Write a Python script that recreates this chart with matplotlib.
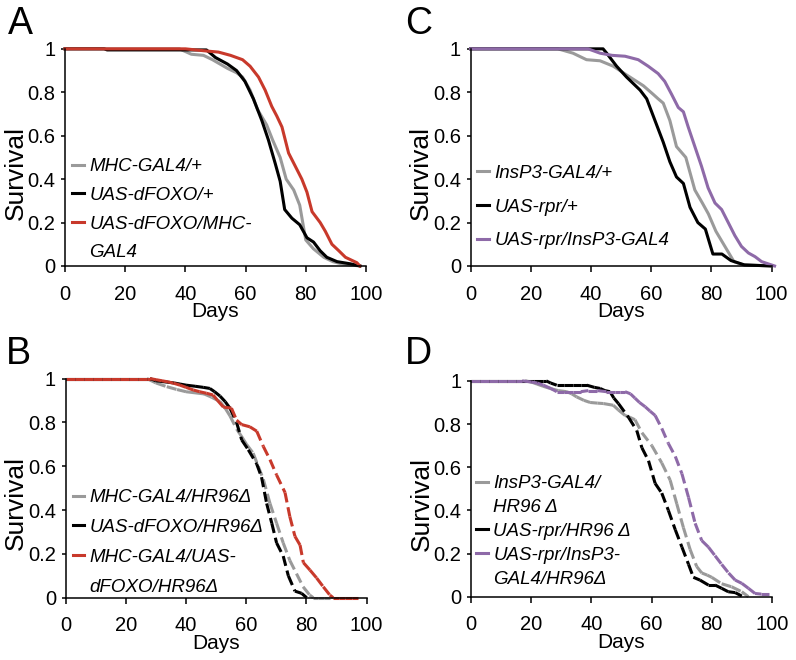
import numpy as np
import matplotlib
matplotlib.use("Agg")
import matplotlib.pyplot as plt
from matplotlib.collections import LineCollection
from matplotlib.lines import Line2D

plt.rcParams['font.family'] = ['Liberation Sans', 'DejaVu Sans']

GRAY = '#9a9a9a'
BLACK = '#000000'
RED = '#c8392b'
PURPLE = '#8e6aa8'

# ---- panel A (solid lines) ----
a_labels = ['MHC-GAL4/+', 'UAS-dFOXO/+', 'UAS-dFOXO/MHC-\nGAL4']
a_gray_days = [0, 38, 42, 46, 49, 51.5, 54, 57, 59, 61.5, 64, 67, 69, 71.5, 73.5, 76, 78, 80, 82.5, 86, 89, 92.5, 98]
a_gray = [1, 1, 0.975, 0.97, 0.95, 0.93, 0.91, 0.89, 0.87, 0.81, 0.72, 0.65, 0.58, 0.50, 0.40, 0.35, 0.28, 0.12, 0.08, 0.04, 0.02, 0.008, 0]
a_black_days = [0, 13, 14, 47, 50, 54, 57, 59.8, 62.6, 65.4, 67.6, 69.9, 71.5, 73, 75.4, 78, 80.4, 82.6, 84.8, 87, 90.4, 94.8, 98]
a_black = [1, 1, 0.995, 0.995, 0.96, 0.93, 0.90, 0.85, 0.77, 0.67, 0.58, 0.47, 0.39, 0.26, 0.22, 0.19, 0.13, 0.11, 0.07, 0.04, 0.02, 0.01, 0]
a_red_days = [0, 40, 47, 51, 55, 59, 61.5, 64.3, 66.5, 68.7, 70.4, 72.1, 73.2, 74.3, 76.5, 78.7, 80.4, 82.1, 84.8, 86.5, 88.7, 91, 93.2, 97, 98]
a_red = [1, 1, 0.99, 0.985, 0.97, 0.95, 0.92, 0.87, 0.81, 0.735, 0.69, 0.64, 0.58, 0.52, 0.46, 0.40, 0.34, 0.25, 0.20, 0.16, 0.10, 0.07, 0.04, 0.015, 0]

# ---- panel B (dashed lines) ----
b_labels = ['MHC-GAL4/HR96Δ', 'UAS-dFOXO/HR96Δ', 'MHC-GAL4/UAS-\ndFOXO/HR96Δ']
b_gray_days = [0, 3, 6, 9, 12, 15, 18, 21, 24, 27, 30, 33.6, 37, 40, 43, 46, 48.5, 51.3, 53, 54.6, 56.8, 58.5, 60.1, 62.3, 64, 65.7, 67.9, 70.1, 72.3, 74.5, 76.7, 78.9, 81.1, 82.3, 84, 86, 88]
b_gray = [1, 1, 1, 1, 1, 1, 1, 1, 1, 1, 0.98, 0.963, 0.95, 0.94, 0.935, 0.93, 0.915, 0.895, 0.865, 0.83, 0.77, 0.735, 0.70, 0.66, 0.60, 0.54, 0.43, 0.34, 0.25, 0.17, 0.11, 0.05, 0.012, 0, 0, 0, 0]
b_black_days = [0, 3, 6, 9, 12, 15, 18, 21, 24, 27, 28, 30, 33, 36, 38, 40, 43, 45.7, 47.9, 49.5, 51.3, 53, 54.6, 56.8, 58.5, 60.7, 63.5, 65.1, 66.8, 68.5, 70.1, 72.3, 74, 76.2, 78.4, 80.1]
b_black = [1, 1, 1, 1, 1, 1, 1, 1, 1, 1, 1, 0.99, 0.985, 0.98, 0.975, 0.97, 0.965, 0.96, 0.955, 0.94, 0.92, 0.895, 0.865, 0.80, 0.72, 0.675, 0.61, 0.55, 0.43, 0.34, 0.25, 0.19, 0.10, 0.03, 0.02, 0]
b_red_days = [0, 3, 6, 9, 12, 15, 18, 21, 24, 27, 28, 30, 32, 34, 35.8, 38, 40, 42.4, 44.5, 46.8, 49, 50.5, 52.4, 55.1, 56.8, 58.5, 61.2, 63.5, 65.7, 67.9, 70.1, 72.9, 74.5, 76.2, 77.9, 79, 81.2, 83.4, 85.6, 87.8, 88.9, 91, 93, 95, 97]
b_red = [1, 1, 1, 1, 1, 1, 1, 1, 1, 1, 1, 0.995, 0.99, 0.985, 0.979, 0.97, 0.96, 0.948, 0.94, 0.933, 0.925, 0.90, 0.87, 0.865, 0.81, 0.79, 0.78, 0.76, 0.69, 0.63, 0.56, 0.48, 0.37, 0.28, 0.24, 0.16, 0.126, 0.09, 0.05, 0.012, 0, 0, 0, 0, 0]

# ---- panel C (solid lines) ----
c_labels = ['InsP3-GAL4/+', 'UAS-rpr/+', 'UAS-rpr/InsP3-GAL4']
c_gray_days = [0, 29, 34, 38.5, 43, 47.4, 51.8, 57.4, 60.7, 62.3, 64, 66.2, 68.4, 71.5, 74.5, 77, 79, 81.5, 84.5, 87.5, 90.6, 100]
c_gray = [1, 1, 0.98, 0.95, 0.945, 0.92, 0.88, 0.83, 0.79, 0.77, 0.75, 0.67, 0.55, 0.50, 0.35, 0.29, 0.24, 0.16, 0.09, 0.02, 0.005, 0]
c_black_days = [0, 44, 45.2, 48.5, 51.8, 56.3, 58.5, 61.8, 64, 66.2, 68.4, 70.7, 72.9, 75.5, 78, 80.5, 83.5, 86.5, 91, 100]
c_black = [1, 1, 0.98, 0.92, 0.87, 0.81, 0.77, 0.65, 0.57, 0.48, 0.41, 0.38, 0.27, 0.20, 0.17, 0.055, 0.055, 0.025, 0.005, 0]
c_purple_days = [0, 39, 43, 47, 51.3, 55.7, 59, 62.3, 64.5, 66.8, 69, 70.7, 72.3, 74.5, 76.7, 78.9, 81.2, 83.4, 85.6, 87.8, 90, 92.3, 94.5, 96.7, 101]
c_purple = [1, 1, 0.98, 0.97, 0.966, 0.95, 0.92, 0.886, 0.85, 0.79, 0.73, 0.71, 0.64, 0.55, 0.46, 0.36, 0.29, 0.26, 0.20, 0.14, 0.09, 0.06, 0.043, 0.02, 0]

# ---- panel D (dashed lines) ----
d_labels = ['InsP3-GAL4/\nHR96 Δ', 'UAS-rpr/HR96 Δ', 'UAS-rpr/InsP3-\nGAL4/HR96Δ']
d_gray_days = [0, 3, 6, 9, 12, 15, 18, 20, 22, 24, 26.3, 29, 31.8, 33.5, 35.1, 37.5, 39.6, 42, 44, 47.3, 49, 51.2, 53, 54.5, 56.8, 60.1, 63.4, 66.2, 68.4, 70.6, 72.8, 75, 76.7, 78.5, 80, 83.3, 86.6, 90, 92.2]
d_gray = [1, 1, 1, 1, 1, 1, 1, 0.995, 0.985, 0.975, 0.965, 0.955, 0.95, 0.94, 0.926, 0.91, 0.90, 0.897, 0.895, 0.887, 0.865, 0.84, 0.83, 0.82, 0.76, 0.70, 0.62, 0.54, 0.43, 0.32, 0.22, 0.14, 0.11, 0.10, 0.09, 0.06, 0.046, 0.023, 0]
d_black_days = [0, 3, 6, 9, 12, 15, 18, 21, 24, 25, 26.5, 28.5, 31, 34, 36.5, 38.5, 41, 42.9, 44.5, 46.2, 47.5, 49, 52.4, 55.1, 56.8, 59, 61.2, 63.4, 65.6, 67.9, 70.1, 72.3, 73.9, 76.1, 78.9, 81.1, 83.3, 85.5, 87.8, 90]
d_black = [1, 1, 1, 1, 1, 1, 1, 1, 1, 1, 0.99, 0.98, 0.98, 0.98, 0.98, 0.98, 0.97, 0.965, 0.955, 0.95, 0.92, 0.895, 0.83, 0.77, 0.69, 0.63, 0.525, 0.48, 0.40, 0.31, 0.23, 0.15, 0.09, 0.077, 0.054, 0.054, 0.039, 0.023, 0.019, 0.003]
d_purple_days = [0, 3, 6, 9, 12, 15, 17, 20, 22, 24.1, 26.5, 28.5, 31, 34, 36.5, 39, 42, 45, 47.9, 49.5, 51.2, 53, 54.5, 56, 57.9, 59.5, 61.2, 63.4, 65.6, 67.9, 70.1, 72.3, 74.5, 76.7, 78.9, 81.1, 83.3, 85.6, 87.8, 90, 92.2, 94.4, 96.5, 99]
d_purple = [1, 1, 1, 1, 1, 1, 1, 0.995, 0.99, 0.98, 0.965, 0.95, 0.95, 0.95, 0.95, 0.955, 0.955, 0.95, 0.95, 0.95, 0.95, 0.94, 0.92, 0.90, 0.88, 0.86, 0.84, 0.78, 0.71, 0.65, 0.57, 0.46, 0.34, 0.26, 0.23, 0.19, 0.15, 0.11, 0.077, 0.062, 0.039, 0.015, 0.012, 0.012]

LW = 2.2


def draw_curve(ax, days, surv, color, dashed):
    if dashed:
        # excel-like dashes: the pattern restarts on every segment
        pts = np.column_stack([days, surv])
        segs = np.stack([pts[:-1], pts[1:]], axis=1)
        lc = LineCollection(segs, colors=color, linewidths=LW,
                            linestyles=[(0, (3.3, 1.6))], clip_on=False)
        ax.add_collection(lc)
    else:
        ax.plot(days, surv, color=color, lw=LW, clip_on=False,
                solid_joinstyle='round')


def panel(ax, series, labels, dashed, leg_xy, leg_spacing):
    for days, surv, color in series:
        draw_curve(ax, days, surv, color, dashed)

    ax.set_xlim(0, 100)
    ax.set_ylim(0, 1)
    ax.spines['top'].set_visible(False)
    ax.spines['right'].set_visible(False)
    for s in ['left', 'bottom']:
        ax.spines[s].set_linewidth(1.1)
    ax.set_xticks([0, 20, 40, 60, 80, 100])
    ax.set_yticks([0, 0.2, 0.4, 0.6, 0.8, 1])
    ax.set_yticklabels(['0', '0.2', '0.4', '0.6', '0.8', '1'])
    ax.tick_params(axis='x', direction='out', length=4.5, width=1.1, pad=9, labelsize=14.5)
    ax.tick_params(axis='y', direction='out', length=3, width=1.1, pad=4, labelsize=14.5)
    ax.set_xlabel('Days', fontsize=15, labelpad=-1)
    ax.set_ylabel('Survival', fontsize=19)
    ax.yaxis.set_label_coords(-0.125, 0.43)

    # legend: wrapped labels get extra rows without a handle
    handles, texts = [], []
    for (days, surv, color), lab in zip(series, labels):
        lines = lab.split('\n')
        handles.append(Line2D([], [], color=color, lw=LW))
        texts.append(lines[0])
        for extra in lines[1:]:
            handles.append(Line2D([], [], color='none'))
            texts.append(extra)
    ax.legend(handles, texts, loc='upper left', bbox_to_anchor=leg_xy,
              frameon=False, borderpad=0, borderaxespad=0,
              handlelength=0.62, handletextpad=0.3, labelspacing=leg_spacing,
              prop={'style': 'italic', 'size': 13.5})


fig = plt.figure(figsize=(7.96, 6.6), dpi=100)
axA = fig.add_axes([0.0817, 0.597, 0.378, 0.329])
axC = fig.add_axes([0.5913, 0.597, 0.378, 0.329])
axB = fig.add_axes([0.0825, 0.0944, 0.378, 0.332])
axD = fig.add_axes([0.5917, 0.0959, 0.378, 0.327])

panel(axA, [(a_gray_days, a_gray, GRAY), (a_black_days, a_black, BLACK), (a_red_days, a_red, RED)],
      a_labels, False, (0.023, 0.497), 0.62)
panel(axB, [(b_gray_days, b_gray, GRAY), (b_black_days, b_black, BLACK), (b_red_days, b_red, RED)],
      b_labels, True, (0.023, 0.496), 0.68)
panel(axC, [(c_gray_days, c_gray, GRAY), (c_black_days, c_black, BLACK), (c_purple_days, c_purple, PURPLE)],
      c_labels, False, (0.021, 0.466), 0.88)
panel(axD, [(d_gray_days, d_gray, GRAY), (d_black_days, d_black, BLACK), (d_purple_days, d_purple, PURPLE)],
      d_labels, True, (0.017, 0.564), 0.36)

# panel letters
for letter, x, y in [('A', 8, 6), ('C', 405, 6), ('B', 6, 336), ('D', 405, 336)]:
    fig.text(x / 796, 1 - y / 660, letter, fontsize=27, va='top', ha='left')

fig.savefig('out.png', dpi=100)
